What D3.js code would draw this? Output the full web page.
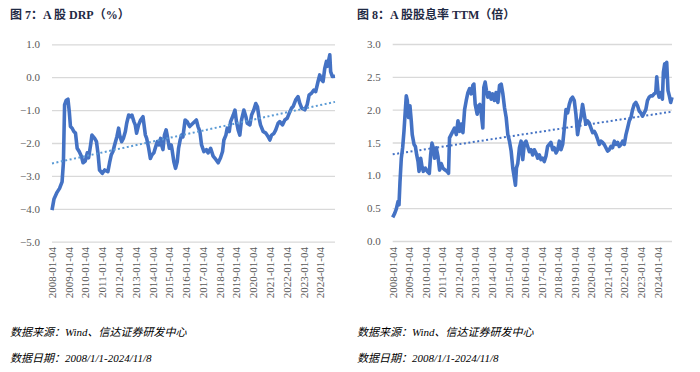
<!DOCTYPE html>
<html>
<head>
<meta charset="utf-8">
<script src="https://cdn.jsdelivr.net/npm/d3@7"></script>
<style>
    body { margin: 0; background: #fff; }
    svg { display: block; font-family: "Liberation Serif", "Noto Sans CJK SC", serif; }
</style>
</head>
<body>
<div id="chart"></div>
<script>
// decimal years (x) and values
let drpYears = [2008.0, 2008.12, 2008.3, 2008.45, 2008.6, 2008.68, 2008.75, 2008.85, 2008.95, 2009.03,
    2009.1, 2009.2, 2009.3, 2009.4, 2009.5, 2009.62, 2009.75, 2009.85, 2009.98, 2010.1,
    2010.18, 2010.3, 2010.38, 2010.54, 2010.65, 2010.75, 2010.83, 2011.0, 2011.14, 2011.33,
    2011.43, 2011.53, 2011.63, 2011.73, 2011.87, 2011.97, 2012.03, 2012.15, 2012.25, 2012.37,
    2012.45, 2012.57, 2012.66, 2012.76, 2012.88, 2012.96, 2013.04, 2013.16, 2013.28, 2013.42,
    2013.56, 2013.64, 2013.76, 2013.86, 2013.96, 2014.07, 2014.15, 2014.27, 2014.37, 2014.47,
    2014.55, 2014.61, 2014.7, 2014.8, 2014.86, 2014.99, 2015.1, 2015.14, 2015.26, 2015.36,
    2015.46, 2015.54, 2015.64, 2015.72, 2015.8, 2015.93, 2016.05, 2016.2, 2016.4, 2016.6,
    2016.7, 2016.81, 2016.91, 2017.05, 2017.2, 2017.3, 2017.45, 2017.6, 2017.76, 2017.9,
    2018.04, 2018.16, 2018.24, 2018.36, 2018.44, 2018.56, 2018.64, 2018.8, 2018.9, 2018.99,
    2019.09, 2019.19, 2019.29, 2019.43, 2019.55, 2019.63, 2019.79, 2019.89, 2020.02, 2020.14,
    2020.24, 2020.34, 2020.42, 2020.58, 2020.74, 2020.88, 2020.98, 2021.08, 2021.22, 2021.33,
    2021.47, 2021.57, 2021.73, 2021.87, 2022.01, 2022.13, 2022.27, 2022.37, 2022.52, 2022.66,
    2022.76, 2022.88, 2023.06, 2023.2, 2023.32, 2023.46, 2023.6, 2023.71, 2023.85, 2023.95,
    2024.05, 2024.15, 2024.25, 2024.35, 2024.4, 2024.45, 2024.55, 2024.6, 2024.7, 2024.86];
let drpValues = [-4.04, -3.7, -3.5, -3.38, -3.18, -2.6, -0.84, -0.7, -0.67, -1.05,
    -1.5, -1.55, -1.65, -1.7, -2.16, -2.26, -2.4, -2.6, -2.55, -2.3,
    -2.45, -2.06, -1.76, -1.86, -1.96, -2.36, -2.82, -2.92, -2.82, -2.87,
    -2.6, -2.36, -2.26, -2.06, -1.8, -1.55, -1.76, -1.96, -1.86, -1.65,
    -1.4, -1.15, -1.2, -1.15, -1.35, -1.45, -1.7, -1.45, -1.3, -1.2,
    -1.75, -1.86, -2.16, -2.47, -2.36, -2.3, -2.16, -1.96, -2.06, -1.86,
    -2.1, -2.2, -1.76, -1.6, -1.76, -2.16, -2.06, -2.16, -2.57, -2.77,
    -2.57, -2.16, -1.9, -1.76, -1.81, -1.3, -1.35, -1.5, -1.4, -1.3,
    -1.5, -1.65, -2.06, -2.26, -2.2, -2.3, -2.16, -2.4, -2.5, -2.6,
    -2.45, -2.26, -1.91, -1.76, -1.55, -1.65, -1.35, -1.15, -1.0, -1.35,
    -1.6, -1.76, -1.3, -1.0, -1.2, -1.4, -1.45, -1.15, -1.0, -0.8,
    -0.9, -1.25, -1.45, -1.65, -1.7, -1.81, -1.91, -1.76, -1.71, -1.6,
    -1.4, -1.35, -1.45, -1.3, -1.25, -1.1, -0.94, -0.89, -0.69, -0.59,
    -0.79, -0.94, -0.99, -0.84, -0.54, -0.49, -0.39, -0.44, -0.13, 0.07,
    -0.08, -0.13, 0.27, 0.48, 0.33, 0.43, 0.68, 0.17, 0.02, 0.03];
let drpTrend = [-2.62, -0.75];

let ttmYears = [2008.0, 2008.12, 2008.22, 2008.32, 2008.38, 2008.44, 2008.52, 2008.6, 2008.68, 2008.76,
    2008.82, 2008.88, 2008.96, 2009.04, 2009.12, 2009.18, 2009.29, 2009.37, 2009.45, 2009.53,
    2009.59, 2009.69, 2009.77, 2009.85, 2009.97, 2010.09, 2010.21, 2010.29, 2010.37, 2010.45,
    2010.53, 2010.63, 2010.73, 2010.83, 2010.93, 2011.03, 2011.17, 2011.29, 2011.37, 2011.43,
    2011.53, 2011.63, 2011.73, 2011.84, 2011.94, 2012.04, 2012.14, 2012.24, 2012.34, 2012.44,
    2012.54, 2012.64, 2012.74, 2012.84, 2012.9, 2012.98, 2013.1, 2013.18, 2013.26, 2013.34,
    2013.44, 2013.5, 2013.58, 2013.66, 2013.74, 2013.84, 2013.94, 2014.04, 2014.14, 2014.24,
    2014.35, 2014.45, 2014.55, 2014.65, 2014.75, 2014.85, 2014.95, 2015.05, 2015.15, 2015.25,
    2015.35, 2015.41, 2015.47, 2015.55, 2015.65, 2015.75, 2015.85, 2015.95, 2016.05, 2016.15,
    2016.25, 2016.35, 2016.45, 2016.55, 2016.65, 2016.75, 2016.85, 2016.95, 2017.05, 2017.15,
    2017.25, 2017.35, 2017.45, 2017.55, 2017.66, 2017.76, 2017.86, 2017.96, 2018.06, 2018.16,
    2018.26, 2018.36, 2018.46, 2018.56, 2018.66, 2018.76, 2018.86, 2018.96, 2019.06, 2019.16,
    2019.26, 2019.36, 2019.46, 2019.56, 2019.66, 2019.76, 2019.86, 2019.97, 2020.07, 2020.17,
    2020.27, 2020.37, 2020.47, 2020.57, 2020.67, 2020.77, 2020.87, 2020.97, 2021.07, 2021.17,
    2021.27, 2021.38, 2021.48, 2021.58, 2021.68, 2021.78, 2021.88, 2021.98, 2022.08, 2022.18,
    2022.28, 2022.38, 2022.48, 2022.58, 2022.68, 2022.78, 2022.88, 2022.98, 2023.08, 2023.18,
    2023.28, 2023.38, 2023.48, 2023.58, 2023.68, 2023.78, 2023.88, 2023.94, 2024.02, 2024.08,
    2024.18, 2024.28, 2024.34, 2024.42, 2024.5, 2024.54, 2024.62, 2024.7, 2024.78, 2024.86];
let ttmValues = [0.36, 0.42, 0.49, 0.6, 0.55, 0.9, 1.26, 1.42, 1.67, 1.98,
    2.21, 2.14, 1.88, 2.06, 1.83, 1.62, 1.47, 1.44, 1.31, 1.21,
    1.06, 1.26, 1.13, 1.06, 1.11, 1.06, 1.03, 1.31, 1.49, 1.42,
    1.26, 1.42, 1.29, 1.08, 1.18, 1.11, 1.08, 1.06, 1.03, 1.57,
    1.62, 1.67, 1.72, 1.62, 1.83, 1.67, 1.78, 1.65, 2.0, 2.14,
    2.26, 2.32, 2.24, 2.37, 2.39, 2.08, 1.93, 2.06, 2.08, 1.95,
    1.72, 2.34, 2.42, 2.29, 2.19, 2.26, 2.16, 2.24, 2.14, 2.26,
    2.11, 2.37, 2.39, 2.24, 2.03, 1.88, 1.62, 1.52, 1.37, 1.11,
    0.95, 0.85, 1.11, 1.18, 1.42, 1.52, 1.24, 1.49, 1.52, 1.44,
    1.36, 1.39, 1.31, 1.39, 1.34, 1.26, 1.31, 1.24, 1.26, 1.21,
    1.29, 1.44, 1.47, 1.5, 1.39, 1.42, 1.34, 1.39, 1.52, 1.39,
    1.47, 1.72, 2.0, 1.95, 2.08, 2.16, 2.19, 2.14, 1.93, 1.62,
    1.78, 1.88, 2.08, 1.93, 1.78, 1.83, 1.8, 1.72, 1.65, 1.67,
    1.62, 1.55, 1.47, 1.52, 1.5, 1.47, 1.42, 1.37, 1.39, 1.44,
    1.42, 1.52, 1.47, 1.5, 1.44, 1.47, 1.52, 1.47, 1.62, 1.72,
    1.83, 1.88, 2.0, 2.08, 2.11, 2.06, 1.98, 1.95, 1.9, 1.95,
    2.0, 2.14, 2.19, 2.21, 2.21, 2.24, 2.26, 2.5, 2.26, 2.19,
    2.26, 2.16, 2.57, 2.7, 2.5, 2.72, 2.29, 2.21, 2.11, 2.19];
let ttmTrend = [1.32, 1.97];

let tickYears = d3.range(2008, 2025);
let tickLabels = tickYears.map(function (y) { return y + "-01-04"; });
let drpTicks = [1, 0, -1, -2, -3, -4, -5];
let ttmTicks = [3, 2.5, 2, 1.5, 1, 0.5, 0];
let yearStart = 2008, yearEnd = 2024.86;

let width = 700, height = 372;
let svg = d3.select("#chart").append("svg")
    .attr("width", width)
    .attr("height", height);

drawPanel({
    left: 10, title: "图 7：A 股 DRP（%）",
    x0: 52, x1: 335, y0: 241.7, y1: 44.3,
    domain: [-5, 1], ticks: drpTicks,
    years: drpYears, values: drpValues, trend: drpTrend, trendColor: "#5b9bd5"
});
drawPanel({
    left: 357, title: "图 8：A 股股息率 TTM（倍）",
    x0: 392.7, x1: 672, y0: 241, y1: 44,
    domain: [0, 3], ticks: ttmTicks,
    years: ttmYears, values: ttmValues, trend: ttmTrend, trendColor: "#4472c4"
});

function drawPanel(p) {
    let g = svg.append("g");
    let x = d3.scaleLinear().domain([yearStart, yearEnd]).range([p.x0, p.x1]);
    let y = d3.scaleLinear().domain(p.domain).range([p.y0, p.y1]);

    g.append("text")
        .attr("x", p.left)
        .attr("y", 19)
        .attr("font-size", 12)
        .attr("font-weight", "bold")
        .attr("fill", "#1f2a44")
        .text(p.title);

    // grid + y labels
    let yAxis = d3.axisLeft(y)
        .tickValues(p.ticks)
        .tickSize(-(p.x1 - p.x0))
        .tickPadding(12)
        .tickFormat(d3.format(".1f"));
    let ya = g.append("g")
        .attr("transform", "translate(" + p.x0 + ",0)")
        .call(yAxis);
    ya.select(".domain").remove();
    ya.selectAll("line").attr("stroke", "#d9d9d9").attr("stroke-width", 1.3);
    ya.selectAll("text")
        .attr("fill", "#595959")
        .style("font-size", "11px")
        .style("font-family", "Liberation Serif");

    // rotated year labels
    g.selectAll(".xlab")
        .data(tickYears)
        .enter().append("text")
        .attr("class", "xlab")
        .attr("transform", function (d) {
            return "translate(" + x(d) + ",247) rotate(-90)";
        })
        .attr("dy", "0.35em")
        .attr("text-anchor", "end")
        .attr("fill", "#595959")
        .attr("font-size", 11)
        .text(function (d, i) { return tickLabels[i]; });

    let line = d3.line()
        .x(function (d) { return x(d[0]); })
        .y(function (d) { return y(d[1]); });

    g.append("path")
        .datum(d3.zip(p.years, p.values))
        .attr("fill", "none")
        .attr("stroke", "#4472c4")
        .attr("stroke-width", 3.6)
        .attr("stroke-linejoin", "round")
        .attr("d", line);

    g.append("path")
        .datum([[yearStart, p.trend[0]], [yearEnd, p.trend[1]]])
        .attr("fill", "none")
        .attr("stroke", p.trendColor)
        .attr("stroke-width", 2)
        .attr("stroke-dasharray", "2,2.5")
        .attr("d", line);

    let foot = g.append("g")
        .attr("font-size", 11)
        .attr("font-style", "italic")
        .attr("fill", "#000");
    foot.append("text").attr("x", p.left).attr("y", 336).text("数据来源：Wind、信达证券研发中心");
    foot.append("text").attr("x", p.left).attr("y", 362).text("数据日期：2008/1/1-2024/11/8");
}
</script>
</body>
</html>
